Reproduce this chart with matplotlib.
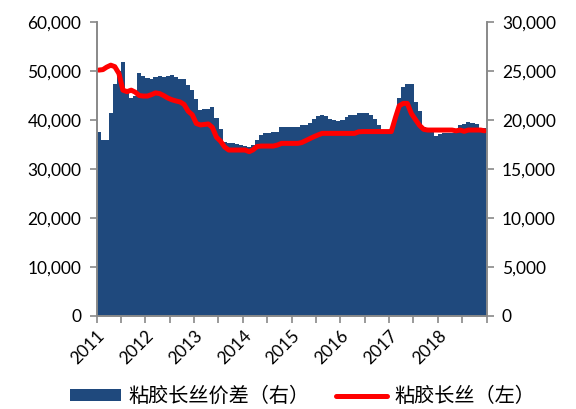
import numpy as np
import pandas as pd
import matplotlib
matplotlib.use("Agg")
import matplotlib.pyplot as plt
from matplotlib.patches import Patch
from matplotlib.lines import Line2D

# ─── DATA (monthly, Jan 2011 – Dec 2018) ─────────────────────────────────────
months = pd.date_range("2011-01-01", periods=96, freq="MS") + pd.Timedelta(days=15)

# 粘胶长丝价差 (right axis)
spread = [
    18750, 18000, 18000, 20700, 23700, 25000, 25900, 22950, 22300, 22500, 24800, 24500,
    24300, 24200, 24400, 24500, 24420, 24500, 24600, 24350, 24180, 24180, 23600, 23100,
    22100, 21020, 21100, 21100, 21330, 20200, 19100, 17800, 17650, 17650, 17600, 17450,
    17350, 17280, 17500, 17960, 18470, 18700, 18700, 18750, 18800, 19320, 19320, 19320,
    19320, 19320, 19450, 19490, 19720, 20100, 20450, 20510, 20450, 20100, 20050, 19900,
    20000, 20340, 20510, 20510, 20750, 20750, 20750, 20500, 20100, 19500, 18980, 18980,
    19100, 20300, 22300, 23400, 23700, 23700, 21800, 20900, 19300, 18980, 18800, 18420,
    18550, 18640, 18640, 18640, 18800, 19500, 19600, 19800, 19700, 19550, 19150, 19150,
]

# 粘胶长丝 (left axis)
price = [
    50200, 50300, 50800, 51200, 50900, 49500, 46100, 45800, 46100, 45700, 45000, 44900,
    44900, 45200, 45550, 45400, 45000, 44500, 44150, 43900, 43700, 43200, 41800, 41100,
    39300, 39000, 39100, 39200, 38500, 36500, 35700, 34500, 33880, 33880, 33880, 33880,
    33880, 33550, 33900, 34600, 34690, 34690, 34690, 34690, 34900, 35240, 35240, 35240,
    35240, 35240, 35400, 35800, 36200, 36600, 36950, 37280, 37280, 37280, 37280, 37280,
    37280, 37280, 37280, 37280, 37600, 37650, 37650, 37650, 37650, 37650, 37650, 37650,
    37650, 40500, 42900, 43400, 43400, 41300, 40100, 38900, 38100, 37960, 37960, 37960,
    37960, 37960, 37960, 37960, 37800, 37960, 37700, 37960, 37960, 37960, 37960, 37800,
]

year_labels = ["2011", "2012", "2013", "2014", "2015", "2016", "2017", "2018"]
left_ticks = [0, 10000, 20000, 30000, 40000, 50000, 60000]
right_ticks = [0, 5000, 10000, 15000, 20000, 25000, 30000]

# ─── STYLE ───────────────────────────────────────────────────────────────────
BLUE, RED, GREY = "#1F497D", "#FF0000", "#898989"
plt.rcParams["font.family"] = ["Lato", "Noto Sans CJK SC", "DejaVu Sans"]

fig = plt.figure(figsize=(5.76, 4.09), dpi=100)
ax = fig.add_axes([0.168, 0.2274, 0.677, 0.7186])
ax2 = ax.twinx()

ax2.bar(months, spread, width=31, color=BLUE, linewidth=0)
ax.plot(months, price, color=RED, lw=3.6, solid_capstyle="round")

ax.set_zorder(ax2.get_zorder() + 1)
ax.patch.set_visible(False)

ax.set_xlim(pd.Timestamp("2011-01-01"), pd.Timestamp("2019-01-01"))
ax.set_ylim(0, 60000)
ax2.set_ylim(0, 30000)

ticks = pd.date_range("2011-01-01", "2019-01-01", freq="6MS")
ax.set_xticks(ticks)
labels = [str(t.year) if t.month == 1 and str(t.year) in year_labels else "" for t in ticks]
ax.set_xticklabels(labels, rotation=45, ha="right", va="top", rotation_mode="anchor",
                   fontsize=12.5)

fmt = matplotlib.ticker.FuncFormatter(lambda v, p: f"{int(v):,}")
ax.set_yticks(left_ticks)
ax.yaxis.set_major_formatter(fmt)
ax2.set_yticks(right_ticks)
ax2.yaxis.set_major_formatter(fmt)

for a in (ax, ax2):
    a.spines["top"].set_visible(False)
    for sp in ("left", "right", "bottom"):
        a.spines[sp].set_color(GREY)
        a.spines[sp].set_linewidth(1.2)
    a.tick_params(axis="both", colors=GREY, labelcolor="black", length=5, width=1.2,
                  labelsize=12.5, direction="out")
ax.tick_params(axis="y", pad=6)
ax2.tick_params(axis="y", pad=6)

handles = [Patch(facecolor=BLUE, edgecolor="none"),
           Line2D([0], [0], color=RED, lw=3.6, solid_capstyle="round")]
fig.legend(handles, ["粘胶长丝价差（右）", "粘胶长丝（左）"], loc="center",
           bbox_to_anchor=(0.526, 0.03), ncol=2, frameon=False,
           prop={"family": ["Noto Sans CJK SC", "DejaVu Sans"], "size": 14.5},
           handlelength=2.5, handleheight=0.55, columnspacing=1.3, handletextpad=0.4,
           borderpad=0.0)

fig.savefig("out.png", dpi=100)
